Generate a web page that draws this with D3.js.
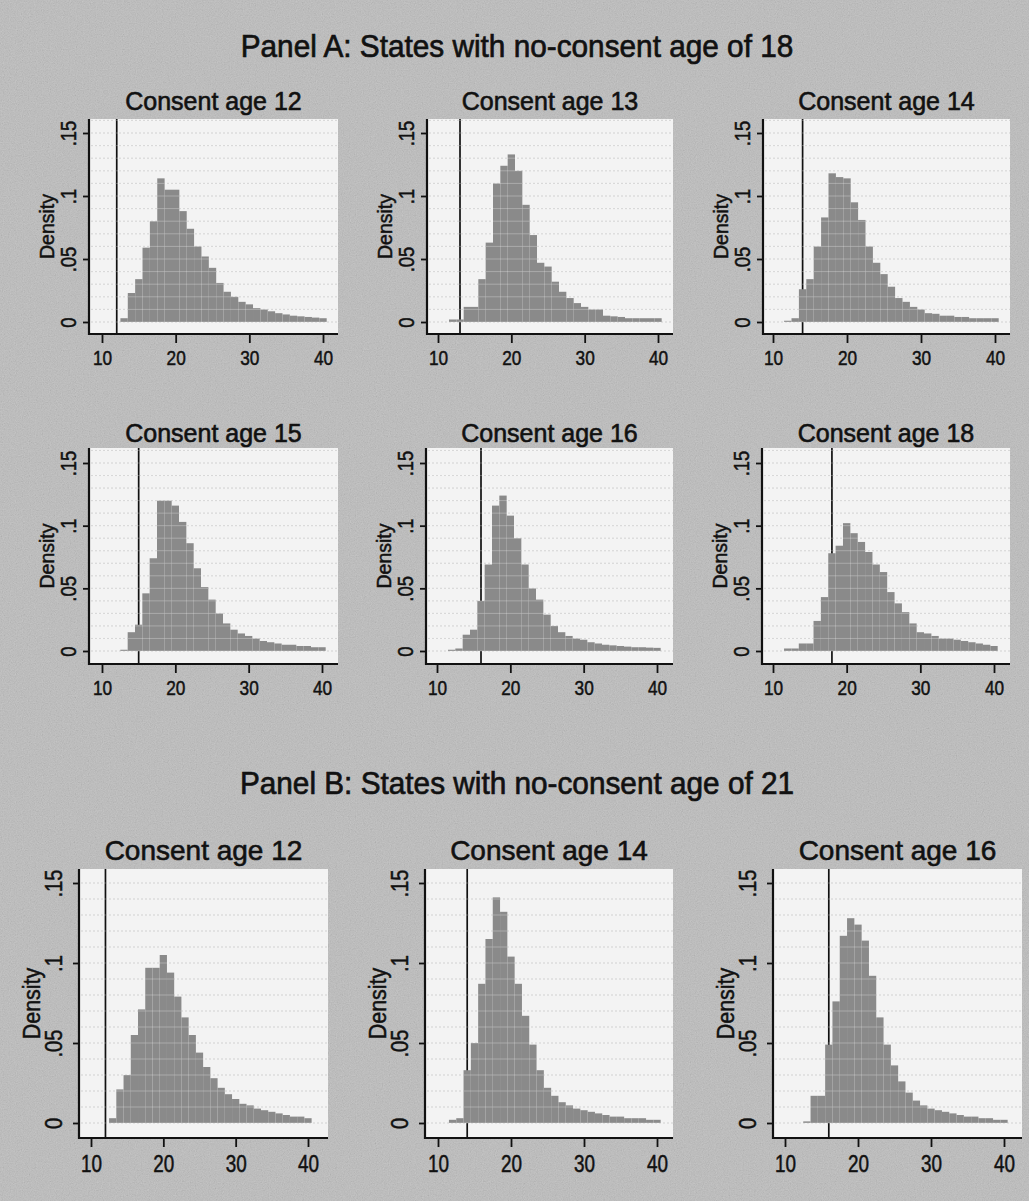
<!DOCTYPE html>
<html lang="en">
<head>
<meta charset="UTF-8">
<title>Age distributions by consent age</title>
<script src="https://cdn.jsdelivr.net/npm/d3@7"></script>
<style>
  body { margin: 0; background: #bcbcbc; }
  svg { display: block; }
  text { font-family: "Liberation Sans", Arial, Helvetica, sans-serif; fill: #111; stroke: #111; stroke-width: 0.5px; }
</style>
</head>
<body>
<script>

    // ---- data (one-year bins centred on each age) ----
    var ages = [12, 13, 14, 15, 16, 17, 18, 19, 20, 21, 22, 23, 24, 25, 26,
                27, 28, 29, 30, 31, 32, 33, 34, 35, 36, 37, 38, 39, 40];

    var panelTitles = ["Panel A: States with no-consent age of 18",
                       "Panel B: States with no-consent age of 21"];
    var subTitles = ["Consent age 12", "Consent age 13", "Consent age 14",
                     "Consent age 15", "Consent age 16", "Consent age 18",
                     "Consent age 12", "Consent age 14", "Consent age 16"];
    var consentAges = [12, 13, 14, 15, 16, 18, 12, 14, 16];

    var densA12 = [0, .003, .023, .034, .059, .080, .114, .105, .105, .088, .074, .060, .052, .043, .031,
                   .024, .020, .016, .014, .011, .010, .0085, .007, .006, .005, .0045, .004, .0035, .003];
    var densA13 = [.002, .002, .012, .012, .034, .063, .110, .124, .133, .120, .093, .069, .047, .044, .032,
                   .024, .019, .015, .012, .010, .010, .005, .0045, .004, .003, .003, .003, .003, .003];
    var densA14 = [.001, .003, .026, .034, .060, .083, .118, .115, .114, .095, .081, .060, .047, .038, .028,
                   .019, .016, .012, .010, .007, .0065, .005, .005, .004, .004, .003, .003, .003, .003];
    var densA15 = [0, .001, .015, .021, .046, .074, .120, .120, .116, .103, .086, .066, .051, .041, .030,
                   .022, .017, .014, .012, .010, .008, .007, .006, .005, .005, .004, .004, .003, .003];
    var densA16 = [.001, .002, .013, .017, .040, .069, .116, .124, .108, .090, .069, .050, .041, .029, .020,
                   .015, .012, .010, .009, .007, .006, .005, .0045, .004, .0035, .003, .003, .0027, .0025];
    var densA18 = [.002, .002, .006, .006, .024, .043, .078, .084, .102, .094, .087, .079, .069, .063, .047,
                   .038, .031, .022, .015, .014, .012, .010, .010, .009, .008, .007, .006, .005, .004];
    var densB12 = [0, .003, .021, .030, .055, .071, .097, .097, .105, .094, .079, .066, .055, .044, .035,
                   .028, .022, .018, .015, .012, .011, .009, .008, .007, .006, .005, .004, .004, .003];
    var densB14 = [.002, .003, .033, .050, .087, .115, .141, .132, .104, .087, .067, .049, .033, .022, .017,
                   .013, .011, .009, .008, .007, .006, .005, .004, .004, .003, .003, .003, .002, .002];
    var densB16 = [0, .001, .017, .017, .049, .076, .117, .128, .124, .114, .092, .066, .049, .036, .026,
                   .019, .014, .011, .009, .008, .007, .006, .005, .004, .004, .003, .003, .002, .002];

    var densities = [densA12, densA13, densA14, densA15, densA16, densA18, densB12, densB14, densB16];

    var yTicks = [0, .05, .1, .15];
    var yTickLabels = ["0", ".05", ".1", ".15"];
    var xTicks = [10, 20, 30, 40];
    var yTitle = "Density";
</script>

<script>

    // ---- layout (pixel geometry measured on the reference) ----
    var width = 1029;
    var height = 1201;

    var rows = [
        {top: 119, y0: 322, y15: 133, axis: 334, sub: 110, subSize: 25, tick: 21, xLab: 31, yLab: 13, dens: 35, densSize: 21},
        {top: 448, y0: 651, y15: 463, axis: 664, sub: 442, subSize: 25, tick: 21, xLab: 31, yLab: 13, dens: 35, densSize: 21},
        {top: 869, y0: 1123, y15: 883, axis: 1138, sub: 860, subSize: 28, tick: 23, xLab: 34, yLab: 17, dens: 39, densSize: 23}
    ];
    var cols = [
        [{left: 89, x10: 102, x40: 323, right: 338}, {left: 427, x10: 438, x40: 658, right: 673}, {left: 763, x10: 773, x40: 995, right: 1010}],
        [{left: 89, x10: 102, x40: 322, right: 338}, {left: 426, x10: 437, x40: 657, right: 673}, {left: 762, x10: 773, x40: 994, right: 1010}],
        [{left: 79, x10: 91, x40: 308, right: 328}, {left: 425, x10: 438, x40: 657, right: 673}, {left: 773, x10: 785, x40: 1004, right: 1022}]
    ];
    var panelTitleY = [57, 794];

    // 扁一点的字体 -> squeeze text horizontally like the scan
    function squeeze(sel, k) {
        sel.each(function () {
            var w = this.getComputedTextLength();
            d3.select(this).attr("textLength", w * k).attr("lengthAdjust", "spacingAndGlyphs");
        });
    }

    var svg = d3.select("body")
        .append("svg")
        .attr("width", width)
        .attr("height", height);

    // paper grain
    var defs = svg.append("defs");
    var grain = defs.append("filter").attr("id", "grain")
        .attr("x", 0).attr("y", 0).attr("width", "100%").attr("height", "100%");
    grain.append("feTurbulence")
        .attr("type", "fractalNoise")
        .attr("baseFrequency", 0.85)
        .attr("numOctaves", 2)
        .attr("seed", 7);
    grain.append("feColorMatrix")
        .attr("type", "matrix")
        .attr("values", "0.33 0.33 0.33 0 0  0.33 0.33 0.33 0 0  0.33 0.33 0.33 0 0  0 0 0 0 0.25");

    svg.append("rect")
        .attr("width", width).attr("height", height)
        .attr("fill", "#bdbdbd");
    svg.append("rect")
        .attr("width", width).attr("height", height)
        .attr("filter", "url(#grain)");

    // panel titles
    svg.selectAll(".ptitle")
        .data(panelTitles)
        .enter()
        .append("text")
        .attr("class", "ptitle")
        .attr("x", 517)
        .attr("y", function (d, i) { return panelTitleY[i]; })
        .attr("text-anchor", "middle")
        .style("font-size", "32px")
        .style("stroke-width", "0.7px")
        .text(function (d) { return d; })
        .call(squeeze, 0.93);

    function drawPanel(i) {
        var r = rows[Math.floor(i / 3)];
        var c = cols[Math.floor(i / 3)][i % 3];
        var dens = densities[i];

        var x = d3.scaleLinear().domain([10, 40]).range([c.x10, c.x40]);
        var y = d3.scaleLinear().domain([0, .15]).range([r.y0, r.y15]);

        var g = svg.append("g");

        // plot region
        g.append("rect")
            .attr("x", c.left).attr("y", r.top)
            .attr("width", c.right - c.left).attr("height", r.axis - r.top)
            .attr("fill", "#f3f3f3");

        // faint scan streaks
        var streaks = d3.ticks(y.invert(r.axis), y.invert(r.top), 17);
        g.selectAll(".streak")
            .data(streaks)
            .enter()
            .append("line")
            .attr("x1", c.left + 2).attr("x2", c.right)
            .attr("y1", function (d) { return y(d); })
            .attr("y2", function (d) { return y(d); })
            .attr("stroke", "#c9c9c9")
            .attr("stroke-width", 1)
            .attr("stroke-dasharray", "2,2");

        // consent age reference line (behind the bars)
        g.append("line")
            .attr("x1", x(consentAges[i])).attr("x2", x(consentAges[i]))
            .attr("y1", r.top).attr("y2", r.axis)
            .attr("stroke", "#111")
            .attr("stroke-width", 1.7);

        // histogram bars
        g.selectAll(".bar")
            .data(ages)
            .enter()
            .append("rect")
            .attr("x", function (d) { return x(d - 0.5); })
            .attr("width", function (d) { return x(d + 0.5) - x(d - 0.5); })
            .attr("y", function (d, k) { return y(dens[k]); })
            .attr("height", function (d, k) { return y(0) - y(dens[k]); })
            .attr("fill", "#8a8a8a");

        // light streaks over the bars
        g.selectAll(".streak2")
            .data(streaks)
            .enter()
            .append("line")
            .attr("x1", c.left + 2).attr("x2", c.right)
            .attr("y1", function (d) { return y(d); })
            .attr("y2", function (d) { return y(d); })
            .attr("stroke", "rgba(255,255,255,0.28)")
            .attr("stroke-width", 1);

        // y axis
        var ya = g.append("g")
            .attr("transform", "translate(" + c.left + ",0)")
            .call(d3.axisLeft(y).tickValues(yTicks)
                .tickFormat(function (d, k) { return yTickLabels[k]; })
                .tickSize(6).tickSizeOuter(0));
        ya.select(".domain").remove();
        ya.selectAll(".tick line").attr("stroke", "#111").attr("stroke-width", 1.8);
        ya.selectAll(".tick text")
            .attr("transform", "rotate(-90)")
            .attr("x", 0).attr("y", -r.yLab).attr("dy", 0)
            .attr("text-anchor", "middle")
            .attr("fill", "#111")
            .style("font-size", (r.tick + 1) + "px")
            .style("font-family", '"Liberation Sans", Arial, sans-serif')
            .call(squeeze, 0.84);

        // x axis
        var xa = g.append("g")
            .attr("transform", "translate(0," + r.axis + ")")
            .call(d3.axisBottom(x).tickValues(xTicks).tickSize(9).tickSizeOuter(0));
        xa.select(".domain").remove();
        xa.selectAll(".tick line").attr("stroke", "#111").attr("stroke-width", 1.8);
        xa.selectAll(".tick text")
            .attr("y", r.xLab).attr("dy", 0)
            .attr("fill", "#111")
            .style("font-size", r.tick + "px")
            .style("font-family", '"Liberation Sans", Arial, sans-serif')
            .call(squeeze, 0.82);

        // axis lines
        g.append("line")
            .attr("x1", c.left).attr("x2", c.left)
            .attr("y1", r.top).attr("y2", r.axis + 1)
            .attr("stroke", "#111").attr("stroke-width", 2.2);
        g.append("line")
            .attr("x1", c.left - 1).attr("x2", c.right)
            .attr("y1", r.axis).attr("y2", r.axis)
            .attr("stroke", "#111").attr("stroke-width", 2.2);

        // y title
        g.append("text")
            .attr("transform", "translate(" + (c.left - r.dens) + "," + ((r.top + r.axis) / 2) + ") rotate(-90)")
            .attr("text-anchor", "middle")
            .style("font-size", r.densSize + "px")
            .text(yTitle)
            .call(squeeze, 0.93);

        // sub title
        g.append("text")
            .attr("x", (c.left + c.right) / 2)
            .attr("y", r.sub)
            .attr("text-anchor", "middle")
            .style("font-size", r.subSize + "px")
            .style("stroke-width", "0.6px")
            .text(subTitles[i]);
    }

    for (var i = 0; i < 9; i++) {
        drawPanel(i);
    }

</script>
</body>
</html>
